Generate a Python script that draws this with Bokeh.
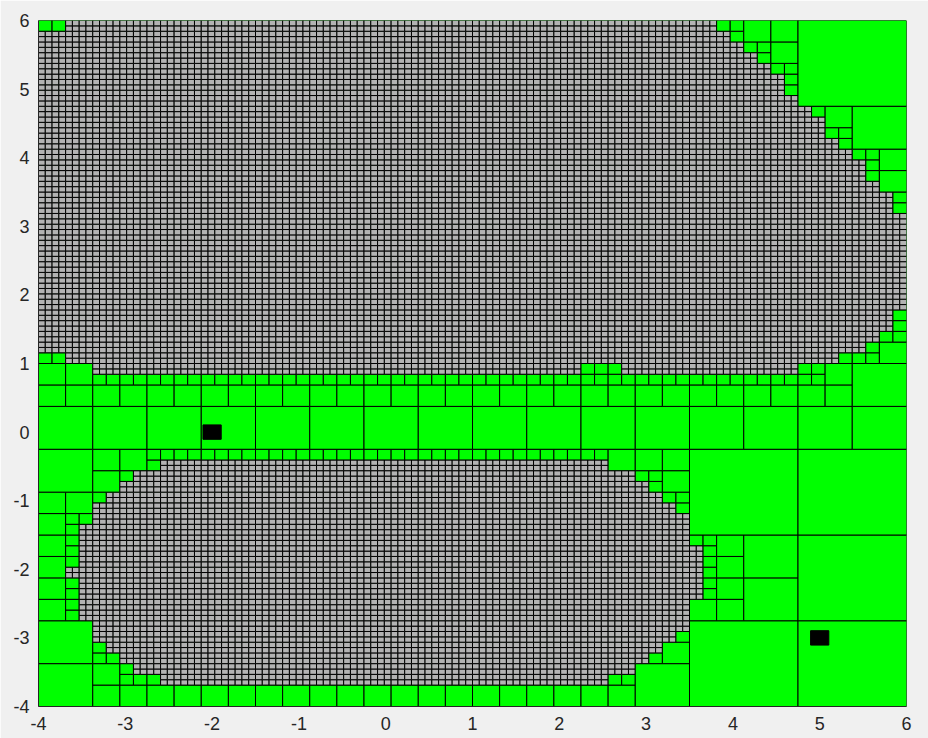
import numpy as np
from bokeh.plotting import figure
from bokeh.models import Range1d, FixedTicker, ColumnDataSource
from bokeh.embed import file_html
from bokeh.resources import INLINE

# ---------------- data ----------------
X_MIN, X_MAX = -4.0, 6.0
Y_MIN, Y_MAX = -4.0, 6.0
MAX_DEPTH = 7                      # finest boxes: 128 x 128

# finest boxes that remain (gray), given as runs of box indices
# rows [lo, hi) counted from the bottom, cols [lo, hi) counted from the left
GRAY_ROW_LO = [62, 62, 64, 66, 68, 70, 74, 92, 96, 98, 102, 104, 106, 110, 112, 114, 118, 120, 122, 124, 126,
               4, 6, 8, 10, 12, 14, 16, 20, 24, 26, 30, 32, 34, 36, 38, 40, 42, 44]
GRAY_ROW_HI = [64, 64, 66, 68, 70, 74, 92, 96, 98, 102, 104, 106, 110, 112, 114, 118, 120, 122, 124, 126, 128,
               6, 8, 10, 12, 14, 16, 20, 24, 26, 30, 32, 34, 36, 38, 40, 42, 44, 46]
GRAY_COL_LO = [8, 86, 4, 0, 0, 0, 0, 0, 0, 0, 0, 0, 0, 0, 0, 0, 0, 0, 0, 0, 4,
               18, 14, 12, 10, 8, 8, 6, 6, 4, 6, 6, 6, 8, 8, 10, 12, 14, 18]
GRAY_COL_HI = [80, 112, 118, 122, 124, 126, 128, 126, 124, 122, 120, 118, 116, 114, 112, 110, 108, 106, 104, 102, 100,
               84, 88, 90, 92, 94, 96, 96, 98, 98, 98, 96, 96, 96, 94, 92, 90, 88, 84]

# boxes that were subdivided although they hold no remaining finest box
SPLIT_DEPTH = [4, 5, 3, 4, 5]
SPLIT_COL = [0, 80, 112, 112, 112]
SPLIT_ROW = [56, 60, 48, 56, 60]

# boxes around the two equilibria
EQ_X = [-2.0, 5.0]
EQ_Y = [0.0, -3.0]
EQ_SIZE = 0.21

TICKS = [-4, -3, -2, -1, 0, 1, 2, 3, 4, 5, 6]
TICK_LABELS = {t: str(t) for t in TICKS}

GREEN = "#00FF00"
GRAY = "#B3B3B3"

# ---------------- quadtree ----------------
N = 2 ** MAX_DEPTH
mask = np.zeros((N, N), dtype=bool)
for rlo, rhi, clo, chi in zip(GRAY_ROW_LO, GRAY_ROW_HI, GRAY_COL_LO, GRAY_COL_HI):
    mask[rlo:rhi, clo:chi] = True
extra = set(zip(SPLIT_DEPTH, SPLIT_COL, SPLIT_ROW))

hx = (X_MAX - X_MIN) / N
hy = (Y_MAX - Y_MIN) / N
leaves = {"left": [], "right": [], "bottom": [], "top": [], "color": []}


def build(d, c, r):
    size = N >> d
    if d == MAX_DEPTH:
        split = False
        color = GRAY if mask[r, c] else GREEN
    else:
        split = bool(mask[r:r + size, c:c + size].any()) or (d, c, r) in extra
        color = GREEN
    if split:
        half = size // 2
        for dc in (0, half):
            for dr in (0, half):
                build(d + 1, c + dc, r + dr)
        return
    leaves["left"].append(X_MIN + c * hx)
    leaves["right"].append(X_MIN + (c + size) * hx)
    leaves["bottom"].append(Y_MIN + r * hy)
    leaves["top"].append(Y_MIN + (r + size) * hy)
    leaves["color"].append(color)


build(0, 0, 0)
src = ColumnDataSource(leaves)

# ---------------- figure ----------------
p = figure(width=928, height=738, output_backend="svg", toolbar_location=None,
           x_range=Range1d(X_MIN, X_MAX), y_range=Range1d(Y_MIN, Y_MAX),
           min_border_left=38, min_border_right=22, min_border_top=20, min_border_bottom=32)
p.border_fill_color = "#F0F0F0"
p.background_fill_color = GREEN
p.outline_line_color = None
p.grid.visible = False

p.quad(left="left", right="right", bottom="bottom", top="top", source=src,
       fill_color="color", line_color="black", line_width=1)
p.rect(x=EQ_X, y=EQ_Y, width=EQ_SIZE, height=EQ_SIZE, fill_color="black", line_color="black")

for ax in (p.xaxis[0], p.yaxis[0]):
    ax.ticker = FixedTicker(ticks=TICKS)
    ax.major_label_overrides = TICK_LABELS
    ax.major_tick_out = 0
    ax.major_tick_in = 0
    ax.minor_tick_out = 0
    ax.minor_tick_in = 0
    ax.axis_line_color = "#262626"
    ax.major_label_text_font = "Liberation Sans"
    ax.major_label_text_font_size = "18px"
    ax.major_label_text_color = "#262626"
p.xaxis[0].major_label_standoff = 10
p.yaxis[0].major_label_standoff = 9

open("out.html", "w").write(file_html(p, INLINE))
